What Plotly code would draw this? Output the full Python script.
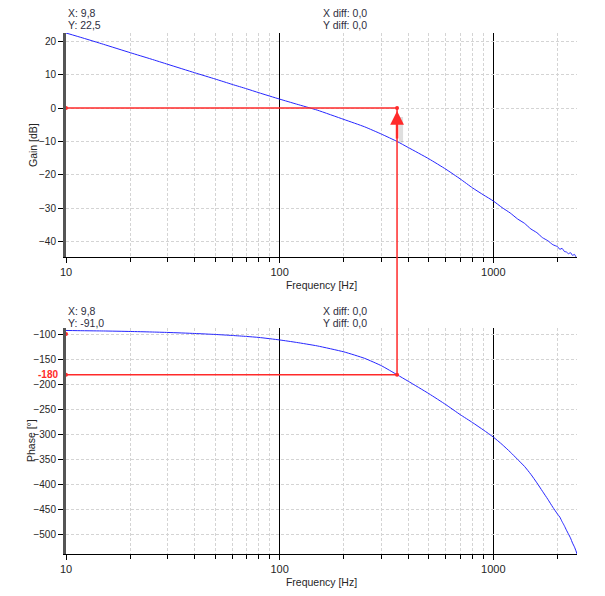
import math
import plotly.graph_objects as go

# ---------------- data ----------------
freq_hz = [10, 12, 15, 20, 25, 30, 40, 50, 60, 70, 80, 100, 120, 150, 200, 250, 300, 355,
           400, 500, 600, 700, 800, 900, 1000, 1100, 1200, 1300, 1400, 1500, 1600, 1700,
           1800, 1900, 2000, 2050, 2100, 2150, 2200, 2250, 2300, 2350, 2400, 2440, 2466]

gain_db = [22.5, 21.0, 19.1, 16.6, 14.7, 13.1, 10.6, 8.7, 7.1, 5.8, 4.6, 2.7, 1.2, -0.6,
           -3.4, -5.6, -7.8, -10.0, -11.8, -15.2, -18.3, -21.2, -23.9, -26.0, -27.8, -29.8,
           -31.4, -33.2, -34.5, -36.2, -37.3, -38.8, -39.7, -40.9, -41.5, -42.3, -42.0,
           -42.9, -43.1, -43.6, -43.3, -44.1, -43.8, -44.6, -44.9]

phase_deg = [-91, -91.5, -92, -93, -94, -95, -97, -99, -101, -103, -105, -110, -115, -122,
             -134, -147, -162, -180, -193, -218, -240, -260, -276, -291, -305, -320, -335,
             -350, -364, -380, -397, -414, -430, -446, -460, -466, -475, -483, -492, -500,
             -508, -518, -526, -534, -540]

x_major_ticks = [10, 100, 1000]
x_major_labels = ["10", "100", "1000"]
x_minor_ticks = [20, 30, 40, 50, 60, 70, 80, 90, 200, 300, 400, 500, 600, 700, 800, 900, 2000]
gain_ticks = [20, 10, 0, -10, -20, -30, -40]
phase_ticks = [-100, -150, -200, -250, -300, -350, -400, -450, -500]

readout_freq = 9.8
readout_gain = 22.5
readout_phase = -91.0
cursor_start_freq = 10
cursor_freq = 354.5
gain_level = 0
phase_level = -180

x_range_log = [1.0, 3.392]
gain_range = [-44.6, 22.5]
phase_range = [-540, -86]

# ---------------- layout geometry ----------------
top_dom = [0.570, 1.0]
bot_dom = [0.0, 0.4338]
ML, MR, MT, MB = 66, 28, 33, 42
W, H = 605, 596
plot_h = H - MT - MB

BLUE = "#2626ff"
RED = "#ff2a2a"
GRID = "#d4d4d4"
FONT = "Liberation Sans, Arial, sans-serif"
TXT = "#262626"
TICK_SIZE = 10


def paper_y(v, rng, dom):
    return dom[0] + (v - rng[0]) / (rng[1] - rng[0]) * (dom[1] - dom[0])


def paper_x(f):
    return (math.log10(f) - x_range_log[0]) / (x_range_log[1] - x_range_log[0])


def py(pixel_y):
    return (H - MB - pixel_y) / plot_h


fig = go.Figure()

# curves
fig.add_trace(go.Scatter(x=freq_hz, y=gain_db, mode="lines",
                         line=dict(color=BLUE, width=1, shape="spline", smoothing=0.5),
                         xaxis="x", yaxis="y", showlegend=False, hoverinfo="skip"))
fig.add_trace(go.Scatter(x=freq_hz, y=phase_deg, mode="lines",
                         line=dict(color=BLUE, width=1, shape="spline", smoothing=0.5),
                         xaxis="x2", yaxis="y2", showlegend=False, hoverinfo="skip"))

# cursor horizontal lines
fig.add_trace(go.Scatter(x=[cursor_start_freq, cursor_freq], y=[gain_level, gain_level], mode="lines",
                         line=dict(color=RED, width=1.5), xaxis="x", yaxis="y",
                         showlegend=False, hoverinfo="skip"))
fig.add_trace(go.Scatter(x=[cursor_start_freq, cursor_freq], y=[phase_level, phase_level], mode="lines",
                         line=dict(color=RED, width=1.5), xaxis="x2", yaxis="y2",
                         showlegend=False, hoverinfo="skip"))

# vertical cursor line between the two plots
fig.add_shape(type="line", xref="paper", yref="paper",
              x0=paper_x(cursor_freq), x1=paper_x(cursor_freq),
              y0=paper_y(gain_level, gain_range, top_dom),
              y1=paper_y(phase_level, phase_range, bot_dom),
              line=dict(color=RED, width=1.5), layer="above")

# red cursor dots
fig.add_trace(go.Scatter(x=[cursor_freq, cursor_start_freq, readout_freq], y=[gain_level, gain_level, readout_gain],
                         mode="markers", marker=dict(color=RED, size=4), cliponaxis=False,
                         xaxis="x", yaxis="y", showlegend=False, hoverinfo="skip"))
fig.add_trace(go.Scatter(x=[cursor_freq, cursor_start_freq, cursor_start_freq], y=[phase_level, phase_level, readout_phase - 7],
                         mode="markers", marker=dict(color=RED, size=4), cliponaxis=False,
                         xaxis="x2", yaxis="y2", showlegend=False, hoverinfo="skip"))

# blue readout arcs (clipped circle markers)
fig.add_trace(go.Scatter(x=[readout_freq], y=[readout_gain], mode="markers",
                         marker=dict(symbol="circle-open", size=21, color=BLUE, line=dict(width=1, color=BLUE)),
                         cliponaxis=True, xaxis="x", yaxis="y", showlegend=False, hoverinfo="skip"))
fig.add_trace(go.Scatter(x=[readout_freq], y=[readout_phase], mode="markers",
                         marker=dict(symbol="circle-open", size=21, color=BLUE, line=dict(width=1, color=BLUE)),
                         cliponaxis=True, xaxis="x2", yaxis="y2", showlegend=False, hoverinfo="skip"))

xaxis_common = dict(
    type="log", range=x_range_log,
    tickmode="array", tickvals=x_major_ticks, ticktext=x_major_labels,
    ticks="outside", ticklen=5, tickcolor="black",
    showgrid=True, gridcolor="black", gridwidth=1,
    showline=True, linecolor="black", linewidth=1,
    zeroline=False,
    tickfont=dict(family=FONT, size=11, color=TXT),
    minor=dict(tickvals=x_minor_ticks, ticks="outside", ticklen=4, tickcolor="black",
               showgrid=True, gridcolor=GRID, griddash="3px,2px", gridwidth=1),
    title=dict(text="Frequency [Hz]", font=dict(family=FONT, size=10.5, color=TXT), standoff=4),
    automargin=False,
)

yaxis_common = dict(
    tickmode="array", ticks="outside", ticklen=5, tickcolor="black",
    showgrid=True, gridcolor=GRID, griddash="3px,2px", gridwidth=1,
    showline=True, linecolor="#555555", linewidth=3,
    zeroline=False,
    tickfont=dict(family=FONT, size=TICK_SIZE, color=TXT),
    automargin=False,
)

fig.update_layout(
    width=W, height=H,
    margin=dict(l=ML, r=MR, t=MT, b=MB),
    paper_bgcolor="white", plot_bgcolor="white",
    showlegend=False,
    xaxis=dict(**xaxis_common, anchor="y", domain=[0, 1]),
    xaxis2=dict(**xaxis_common, anchor="y2", domain=[0, 1]),
    yaxis=dict(**yaxis_common, domain=top_dom, range=gain_range, tickvals=gain_ticks),
    yaxis2=dict(**yaxis_common, domain=bot_dom, range=phase_range, tickvals=phase_ticks),
)

# arrow (shadow + red arrow)
fig.add_annotation(xref="x", yref="y", x=math.log10(cursor_freq), y=gain_level, text="",
                   showarrow=True, arrowhead=0, arrowwidth=4, arrowcolor="rgba(0,0,0,0.12)",
                   ax=0, ay=36, standoff=9, xshift=4)
fig.add_annotation(xref="x", yref="y", x=math.log10(cursor_freq), y=gain_level, text="",
                   showarrow=True, arrowhead=2, arrowsize=1.1, arrowwidth=2.5, arrowcolor=RED,
                   ax=0, ay=32, standoff=3)

# -180 label
fig.add_annotation(xref="paper", yref="y2", x=0, y=phase_level, text="<b>-180</b>",
                   showarrow=False, xanchor="right", yanchor="middle", xshift=-6,
                   font=dict(family=FONT, size=TICK_SIZE, color=RED))

# y titles
fig.add_annotation(xref="paper", yref="paper", x=0, y=(top_dom[0] + top_dom[1]) / 2, text="Gain [dB]",
                   textangle=-90, showarrow=False, xanchor="center", yanchor="middle", xshift=-33,
                   font=dict(family=FONT, size=10.5, color=TXT))
fig.add_annotation(xref="paper", yref="paper", x=0, y=(bot_dom[0] + bot_dom[1]) / 2, text="Phase [°]",
                   textangle=-90, showarrow=False, xanchor="center", yanchor="middle", xshift=-35,
                   font=dict(family=FONT, size=10.5, color=TXT))

# readouts
readouts = [
    (66, 13, f"X: {readout_freq:.1f}".replace(".", ",")),
    (66, 25, f"Y: {readout_gain:.1f}".replace(".", ",")),
    (321, 13, "X diff: 0,0"),
    (321, 25, "Y diff: 0,0"),
    (66, 311, f"X: {readout_freq:.1f}".replace(".", ",")),
    (66, 323, f"Y: {readout_phase:.1f}".replace(".", ",")),
    (321, 311, "X diff: 0,0"),
    (321, 323, "Y diff: 0,0"),
]
for px_, py_, t in readouts:
    fig.add_annotation(xref="paper", yref="paper", x=(px_ - ML) / (W - ML - MR), y=py(py_), text=t,
                       showarrow=False, xanchor="left", yanchor="middle",
                       font=dict(family=FONT, size=10.5, color="#2e2e3e"))

fig.write_html("out.html",
               config={"displayModeBar": False},
               post_script="document.body.style.margin='0px';document.body.style.padding='0px';"
                           "document.documentElement.style.overflow='hidden';")
